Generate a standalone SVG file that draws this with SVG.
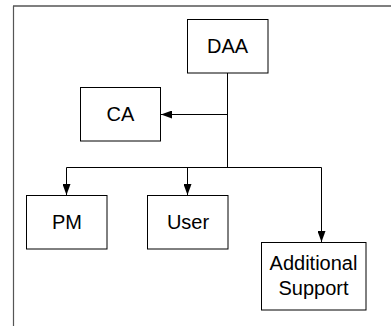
<svg xmlns="http://www.w3.org/2000/svg" width="391" height="326" viewBox="0 0 391 326">
<style>
.box{fill:#fff;stroke:#000;stroke-width:1}
.lbl{font-family:"Liberation Sans",Arial,sans-serif;font-size:20px;fill:#000;text-anchor:middle}
.con{fill:none;stroke:#000;stroke-width:1}
</style>
<defs>
<marker id="ah" markerWidth="11" markerHeight="8" refX="11" refY="4" orient="auto" markerUnits="userSpaceOnUse">
<path d="M0,0 L11,4 L0,8 Z" fill="#000"/>
</marker>
</defs>
<rect width="391" height="326" fill="#fff"/>
<g id="frame">
<line x1="13" y1="6" x2="391" y2="6" stroke="#000" stroke-width="1.2"/>
<line x1="13.5" y1="6" x2="13.5" y2="326" stroke="#555" stroke-width="1.2"/>
</g>
<g id="connectors">
<line class="con" x1="227.5" y1="73" x2="227.5" y2="167.5"/>
<line class="con" x1="227.5" y1="114.5" x2="161" y2="114.5" marker-end="url(#ah)"/>
<line class="con" x1="66.5" y1="167.5" x2="321.5" y2="167.5"/>
<line class="con" x1="66.5" y1="167.5" x2="66.5" y2="195" marker-end="url(#ah)"/>
<line class="con" x1="187.5" y1="167.5" x2="187.5" y2="195" marker-end="url(#ah)"/>
<line class="con" x1="321.5" y1="167.5" x2="321.5" y2="242" marker-end="url(#ah)"/>
</g>
<g id="daa">
<rect class="box" x="187.5" y="19.5" width="80.5" height="53.5"/>
<text class="lbl" x="227.5" y="53">DAA</text>
</g>
<g id="ca">
<rect class="box" x="80.5" y="87.5" width="80" height="53.5"/>
<text class="lbl" x="120.5" y="121">CA</text>
</g>
<g id="pm">
<rect class="box" x="26.5" y="195.5" width="80.5" height="53.5"/>
<text class="lbl" x="67" y="229">PM</text>
</g>
<g id="user">
<rect class="box" x="147.5" y="195.5" width="80.5" height="53.5"/>
<text class="lbl" x="188" y="229">User</text>
</g>
<g id="additional-support">
<rect class="box" x="261.5" y="242.5" width="104.5" height="67.5"/>
<text class="lbl" x="313.5" y="269.5">Additional</text>
<text class="lbl" x="313.5" y="295">Support</text>
</g>
</svg>
